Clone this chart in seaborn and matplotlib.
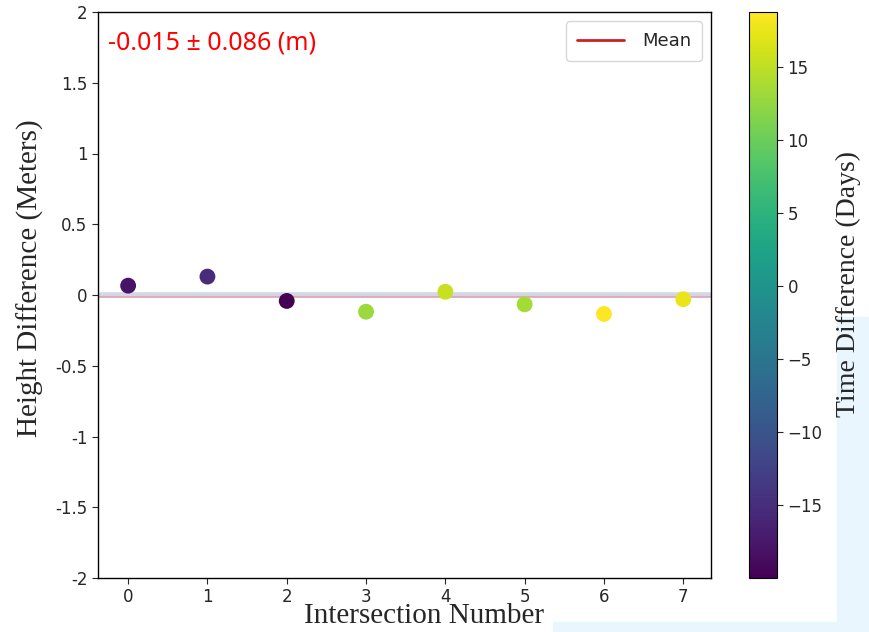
import numpy as np
import pandas as pd
import matplotlib
matplotlib.use("Agg")
import matplotlib.pyplot as plt
from matplotlib.lines import Line2D
from matplotlib.patches import Rectangle
from matplotlib.ticker import FuncFormatter
import seaborn as sns

# values
intersection = [0, 1, 2, 3, 4, 5, 6, 7]
height_diff = [0.066, 0.13, -0.042, -0.118, 0.023, -0.066, -0.134, -0.03]
time_diff = [-18.0, -15.3, -20.0, 13.0, 15.5, 13.6, 18.8, 17.5]
mean_val = -0.015
std_val = 0.086
cbar_ticks = [-15, -10, -5, 0, 5, 10, 15]
y_ticks = [-2, -1.5, -1, -0.5, 0, 0.5, 1, 1.5, 2]

df = pd.DataFrame({"n": intersection, "dh": height_diff, "dt": time_diff})

sns.set_style("white")
plt.rcParams["font.family"] = ["DejaVu Sans"]
serif = "Liberation Serif"

fig = plt.figure(figsize=(8.7, 6.32), dpi=100)
# light blue screenshot background bits
fig.patches.append(Rectangle((553 / 870, 0), (840 - 553) / 870, 10 / 632,
                             transform=fig.transFigure, color="#eaf6fd", zorder=-5))
fig.patches.append(Rectangle((837 / 870, 0), 33 / 870, (632 - 317) / 632,
                             transform=fig.transFigure, color="#eaf6fd", zorder=-5))

ax = fig.add_axes([98 / 870, 54 / 632, 613 / 870, 566 / 632])
cax = fig.add_axes([749 / 870, 54 / 632, 28 / 870, 566 / 632])

norm = plt.Normalize(min(time_diff), max(time_diff))
ax.axhline(0, color="#c8cde0", lw=4, alpha=0.8, zorder=1)
ax.axhline(mean_val, color="red", lw=1.5, alpha=0.2, zorder=1)
sns.scatterplot(data=df, x="n", y="dh", hue="dt", palette="viridis", hue_norm=norm,
                s=130, linewidth=0, legend=False, ax=ax, zorder=3)

ax.set_ylim(-2, 2)
ax.set_xlim(-0.38, 7.35)
ax.set_yticks(y_ticks)
ax.yaxis.set_major_formatter(FuncFormatter(lambda v, p: f"{v:g}"))
ax.set_xticks(intersection)
ax.tick_params(axis="both", labelsize=12, length=4, direction="out", bottom=True, left=True)
for s in ax.spines.values():
    s.set_color("black")
    s.set_linewidth(1.0)

ax.set_xlabel("Intersection Number", fontsize=21, family=serif)
ax.xaxis.set_label_coords(0.532, -0.045)
ax.set_ylabel("Height Difference (Meters)", fontsize=21, family=serif)
ax.yaxis.set_label_coords(-0.088, 0.53)

ax.text(0.016, 0.945, f"{mean_val:.3f} \u00b1 {std_val:.3f} (m)", transform=ax.transAxes,
        color="red", fontsize=18, family="Noto Sans", ha="left", va="center")

handle = Line2D([], [], color="#cc2222", lw=2)
ax.legend([handle], ["Mean"], loc="upper right", fontsize=13, frameon=True,
          handlelength=2.6, borderpad=0.6, handletextpad=1.0)

sm = plt.cm.ScalarMappable(cmap="viridis", norm=norm)
cbar = fig.colorbar(sm, cax=cax)
cbar.set_ticks(cbar_ticks)
cbar.ax.tick_params(labelsize=12, length=4)
cbar.outline.set_edgecolor("black")
cbar.set_label("Time Difference (Days)", fontsize=20, family=serif)
cbar.ax.yaxis.set_label_coords(3.1, 0.52)

fig.savefig("out.png", dpi=100)
